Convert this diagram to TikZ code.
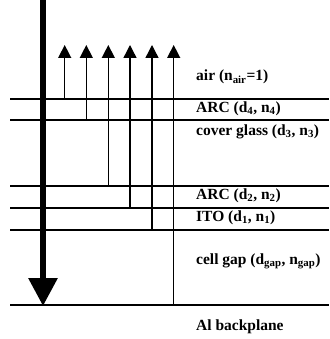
\documentclass[tikz,border=0pt]{standalone}
\usepackage{fontspec}
\setmainfont{Liberation Serif}
\usepackage{tikz}
\usetikzlibrary{
    arrows.meta
}

\begin{document}
\begin{tikzpicture}[x=1pt, y=-1pt,
    layer/.style={line width=1.4pt},
    ray/.style={line width=1.4pt, -{Triangle[length=13pt, width=13pt]}},
    beam/.style={line width=6pt, -{Triangle[length=28pt, width=28pt]}},
    lbl/.style={anchor=west, inner sep=0pt, font=\fontsize{15.5}{17}\selectfont\bfseries}]
        % Fix the canvas
        \useasboundingbox (0,0) rectangle (329,339);

        % Layer boundaries
        \foreach \name/\y in {l1/99, l2/120, l3/186, l4/208, l5/230, l6/305} {
            \coordinate (\name w) at (10,\y);
            \coordinate (\name e) at (329,\y);
            \draw[layer] (\name w) -- (\name e);
        }

        % Incident beam
        \coordinate (in) at (43,0);
        \coordinate (inend) at (43,306);
        \draw[beam] (in) -- (inend);

        % Reflected rays, one from each interface
        \foreach \i/\x in {1/64.7, 2/86.3, 3/108.3, 4/130, 5/152, 6/173.7} {
            \coordinate (r\i) at (\x,45);
            \draw[ray] (l\i w -| r\i) -- (r\i);
        }

        % Layer names
        \node[lbl] (air) at (196,77) {air (n\textsubscript{air}=1)};
        \node[lbl] (arc4) at (196,109) {ARC (d\textsubscript{4}, n\textsubscript{4})};
        \node[lbl] (glass) at (196,132) {cover glass (d\textsubscript{3}, n\textsubscript{3})};
        \node[lbl] (arc2) at (196,196) {ARC (d\textsubscript{2}, n\textsubscript{2})};
        \node[lbl] (ito) at (196,218) {ITO (d\textsubscript{1}, n\textsubscript{1})};
        \node[lbl] (gap) at (196,261) {cell gap (d\textsubscript{gap}, n\textsubscript{gap})};
        \node[lbl] (al) at (196,327) {Al backplane};
    \end{tikzpicture}
\end{document}
